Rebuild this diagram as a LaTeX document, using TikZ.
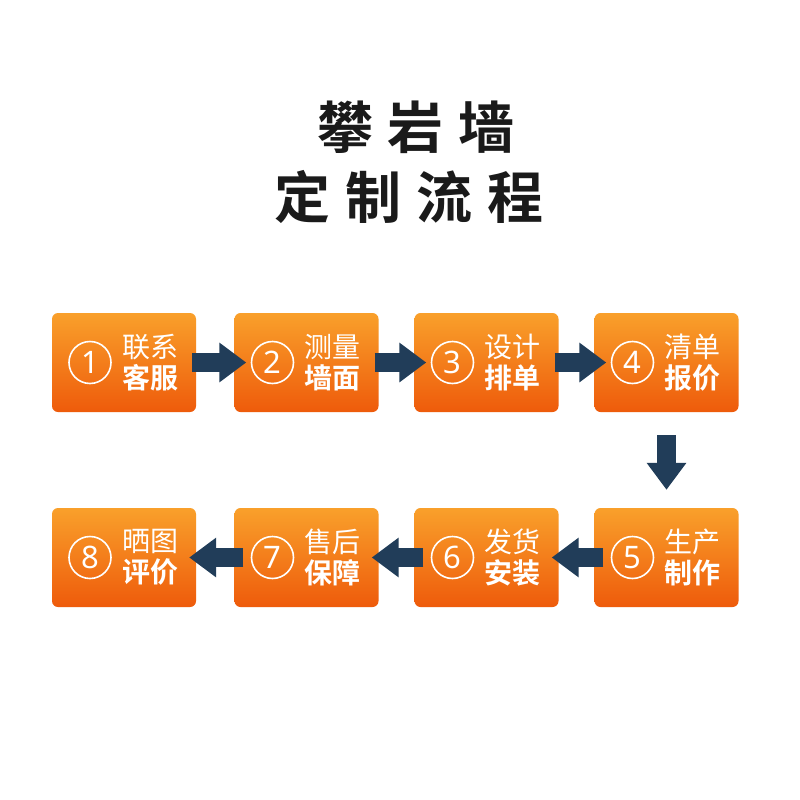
\documentclass[tikz,border=0pt]{standalone}
\usepackage{fontspec}
\newfontfamily\cjk{Noto Sans CJK SC}[BoldFont={Noto Sans CJK SC Bold}]
\newfontfamily\numfont{Noto Sans}
\usetikzlibrary{arrows.meta}
\definecolor{orT}{HTML}{F9A02B}
\definecolor{orB}{HTML}{EE5B0B}
\definecolor{navy}{HTML}{213D59}
\definecolor{ttl}{HTML}{1A1A1A}
\tikzset{
  box/.style={rounded corners=6pt, top color=orT, bottom color=orB, minimum width=144pt, minimum height=99pt, inner sep=0pt, draw=none},
  numc/.style={circle, draw=white, line width=1.6pt, minimum size=42pt, inner sep=0pt, text=white, font=\numfont\fontsize{31}{31}\selectfont},
  lbl/.style={text=white, align=center, inner sep=0pt, font=\cjk\fontsize{28}{31}\selectfont},
  arr/.style={draw=navy, line width=19pt, -{Triangle[length=27pt,width=38pt]}},
  title/.style={text=ttl, inner sep=0pt, font=\cjk\bfseries\fontsize{56}{60}\selectfont}
}
\begin{document}
\begin{tikzpicture}[x=1pt,y=-1pt]
\useasboundingbox[fill=white] (0,0) rectangle (800,800);
\node[title] (t1) at (416,127) {攀\hspace{15pt}岩\hspace{15pt}墙};
\node[title] (t2) at (409,197) {定\hspace{15pt}制\hspace{15pt}流\hspace{15pt}程};
% boxes
\node[box] (b1) at (124,362.5) {};
\node[box] (b2) at (306.5,362.5) {};
\node[box] (b3) at (486.5,362.5) {};
\node[box] (b4) at (666.5,362.5) {};
\node[box] (b5) at (666.5,557.5) {};
\node[box] (b6) at (486.5,557.5) {};
\node[box] (b7) at (306.5,557.5) {};
\node[box] (b8) at (124,557.5) {};
% contents
\foreach \i/\x/\y/\a/\b in {1/124/362.5/联系/客服, 2/306.5/362.5/测量/墙面, 3/486.5/362.5/设计/排单, 4/666.5/362.5/清单/报价, 5/666.5/557.5/生产/制作, 6/486.5/557.5/发货/安装, 7/306.5/557.5/售后/保障, 8/124/557.5/晒图/评价}{
  \node[numc] (c\i) at (\x-34,\y) {\i};
  \node[lbl] (l\i) at (\x+26,\y) {\a\\\textbf{\b}};
}
% arrows
\draw[arr, shorten <=-4pt, shorten >=-12pt] (b1.east) -- (b2.west);
\draw[arr, shorten <=-4pt, shorten >=-12pt] (b2.east) -- (b3.west);
\draw[arr, shorten <=-4pt, shorten >=-12pt] (b3.east) -- (b4.west);
\draw[arr, shorten <=23pt, shorten >=18pt] (b4.south) -- (b5.north);
\draw[arr, shorten <=-9pt, shorten >=-7pt] (b5.west) -- (b6.east);
\draw[arr, shorten <=-9pt, shorten >=-7pt] (b6.west) -- (b7.east);
\draw[arr, shorten <=-9pt, shorten >=-7pt] (b7.west) -- (b8.east);
\end{tikzpicture}
\end{document}
